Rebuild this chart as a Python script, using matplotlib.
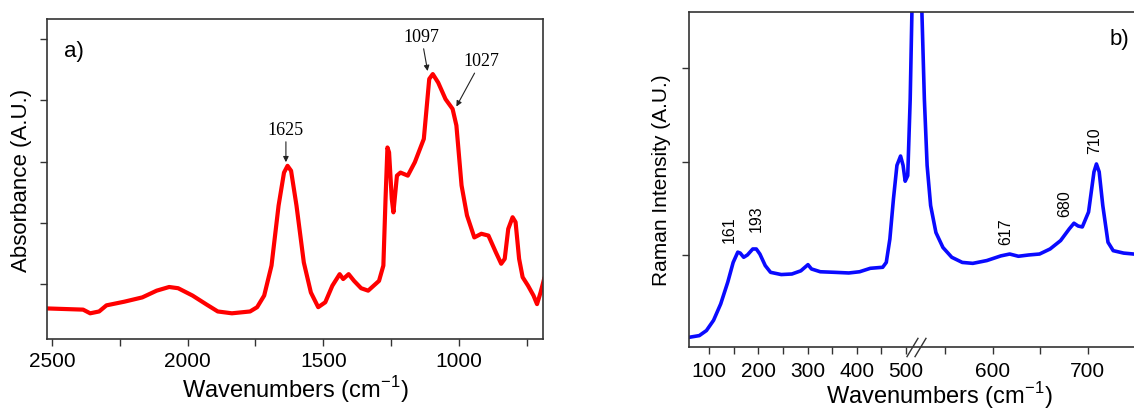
import matplotlib
matplotlib.use("Agg")
import matplotlib.pyplot as plt
import numpy as np

plt.rcParams['font.family'] = ['Liberation Sans', 'DejaVu Sans']

# a) FTIR absorbance
ir_wn = [2521, 2385, 2359, 2326, 2299, 2233, 2167, 2114, 2068, 2035, 1982, 1929, 1889, 1837, 1770,
         1744, 1718, 1691, 1665, 1645, 1632, 1619, 1599, 1572, 1546, 1519, 1493, 1467, 1440, 1427,
         1407, 1387, 1361, 1335, 1295, 1279, 1271, 1264, 1258, 1248, 1242, 1229, 1216, 1189, 1163,
         1130, 1110, 1097, 1077, 1050, 1024, 1010, 991, 971, 944, 918, 892, 865, 845, 832,
         819, 803, 792, 779, 766, 746, 726, 713, 700, 687]
ir_abs = [0.60, 0.58, 0.52, 0.55, 0.65, 0.71, 0.78, 0.89, 0.95, 0.93, 0.81, 0.66, 0.55, 0.52, 0.55,
          0.62, 0.81, 1.30, 2.28, 2.82, 2.93, 2.85, 2.28, 1.35, 0.86, 0.62, 0.70, 0.97, 1.16, 1.08,
          1.16, 1.05, 0.93, 0.89, 1.05, 1.30, 2.39, 3.23, 3.15, 2.39, 2.17, 2.77, 2.82, 2.77, 2.99,
          3.37, 4.35, 4.43, 4.29, 4.02, 3.86, 3.59, 2.61, 2.12, 1.76, 1.82, 1.79, 1.52, 1.33, 1.41,
          1.90, 2.09, 2.01, 1.41, 1.11, 0.97, 0.81, 0.67, 0.86, 1.08]
ir_labels = ['1625', '1097', '1027']
ir_tips = [(1638, 2.99), (1116, 4.48), (1010, 3.90)]
ir_texts = [(1638, 3.53), (1139, 5.05), (918, 4.65)]

# b) Raman
ra_wn = [59.4, 79.7, 94.2, 108.7, 123.2, 137.7, 148.6, 158, 163, 170, 177.6, 188.5, 195.7, 203, 213.9,
         224.7, 246.5, 268.2, 286.4, 300.9, 308, 326, 355, 384, 406, 427.8, 453, 460.3, 467.6, 474.9,
         482, 489.4, 494.5, 498.8, 504, 509, 512.5, 516, 520, 524, 525.2, 527.8, 530.7, 534.4, 540,
         547.4, 556.7, 567.8, 578.9, 593.7, 608.5, 617.8, 627, 638, 649.3, 660.4, 671.5, 680.7, 685.6, 690,
         694.4, 701, 706.7, 709.3, 712.2, 716, 721.5, 727, 738, 748.5, 766, 808]
ra_int = [0.118, 0.136, 0.19, 0.30, 0.475, 0.71, 0.92, 1.03, 1.02, 0.975, 1.0, 1.064, 1.064, 1.01, 0.886,
          0.814, 0.79, 0.796, 0.83, 0.896, 0.85, 0.82, 0.814, 0.807, 0.82, 0.857, 0.868, 0.92, 1.17, 1.60,
          1.96, 2.06, 1.96, 1.79, 1.85, 2.67, 3.6, 5.0, 7.0, 5.0, 3.6, 2.67, 1.96, 1.53, 1.24,
          1.08, 0.975, 0.92, 0.91, 0.94, 0.99, 1.01, 0.986, 1.0, 1.01, 1.064, 1.154, 1.28, 1.34, 1.31,
          1.30, 1.46, 1.89, 1.975, 1.89, 1.53, 1.136, 1.046, 1.02, 1.01, 1.0, 0.99]
ra_labels = ['161', '193', '617', '680', '710']
ra_pos = [(141, 1.28), (196, 1.40), (614, 1.26), (676, 1.56), (707, 2.24)]

# x axis break: above BRK the axis is stretched by K
BRK, K = 517.0, 1.93


def fwd(x):
    x = np.asarray(x, dtype=float)
    return np.where(x <= BRK, x, BRK + K * (x - BRK))


def inv(y):
    y = np.asarray(y, dtype=float)
    return np.where(y <= BRK, y, BRK + (y - BRK) / K)


W, H = 1134, 410
fig = plt.figure(figsize=(W / 100, H / 100), dpi=100)

spine_col = '#333333'
tick_fs = 15

# ---------- panel a ----------
ax1 = fig.add_axes([47 / W, (H - 340) / H, (543 - 47) / W, 320 / H])
ax1.plot(ir_wn, ir_abs, color='#ff0000', lw=3.0, solid_joinstyle='round')
ax1.set_xlim(2518, 691)
ax1.set_ylim(0.10, 5.33)
ax1.set_xticks([2500, 2000, 1500, 1000])
ax1.set_xticks([2250, 1750, 1250, 750], minor=True)
ax1.set_yticks([1, 2, 3, 4, 5])
ax1.set_yticklabels([])
ax1.tick_params(axis='both', which='both', direction='out', length=5, width=1, color=spine_col)
ax1.tick_params(axis='x', labelsize=tick_fs, pad=4)
ax1.set_xlabel('Wavenumbers (cm$^{\\mathregular{-1}}$)', fontsize=17, labelpad=2)
ax1.set_ylabel('Absorbance (A.U.)', fontsize=16, labelpad=2)
for lab, tip, txt in zip(ir_labels, ir_tips, ir_texts):
    ax1.annotate(lab, xy=tip, xytext=txt, ha='center', va='center', fontsize=13,
                 family='Liberation Serif',
                 arrowprops=dict(arrowstyle='-|>', color='#222222', lw=0.8,
                                 mutation_scale=8, shrinkA=1, shrinkB=0))
ax1.text(0.035, 0.9, 'a)', transform=ax1.transAxes, fontsize=16, ha='left', va='center')

# ---------- panel b ----------
right_px = 1190
ax2 = fig.add_axes([689.3 / W, (H - 347.7) / H, (right_px - 689.3) / W, 334.4 / H])
ax2.set_xscale('function', functions=(fwd, inv))
ax2.plot(ra_wn, ra_int, color='#0a0aff', lw=2.6, solid_joinstyle='round')
ax2.set_xlim(59.3, 808)
ax2.set_ylim(0.017, 3.60)
ax2.set_xticks([100, 200, 300, 400, 500, 600, 700])
ax2.set_xticks([150, 250, 350, 450, 550, 650, 750], minor=True)
ax2.set_yticks([1, 2, 3])
ax2.set_yticklabels([])
ax2.tick_params(axis='both', which='both', direction='out', length=5, width=1, color=spine_col)
ax2.tick_params(axis='x', labelsize=tick_fs, pad=5)
ax2.set_xlabel('Wavenumbers (cm$^{\\mathregular{-1}}$)', fontsize=17, labelpad=0)
ax2.set_ylabel('Raman Intensity (A.U.)', fontsize=15, labelpad=5)
for lab, (x, y) in zip(ra_labels, ra_pos):
    ax2.text(x, y, lab, rotation=90, ha='center', va='center', fontsize=11.5)

# break marks on the bottom axis
brk_marker = [(-0.6, -1.0), (0.6, 1.0)]
ax2.plot([513.6, 523.0], [0, 0], transform=ax2.get_xaxis_transform(), ls='none',
         marker=brk_marker, markersize=14, markeredgewidth=1.0, color=spine_col, clip_on=False)

for ax in (ax1, ax2):
    for s in ax.spines.values():
        s.set_color(spine_col)
        s.set_linewidth(1.2)

fig.text(1119 / W, 1 - 40 / H, 'b)', fontsize=16, ha='center', va='center')

fig.savefig('out.png', dpi=100)
